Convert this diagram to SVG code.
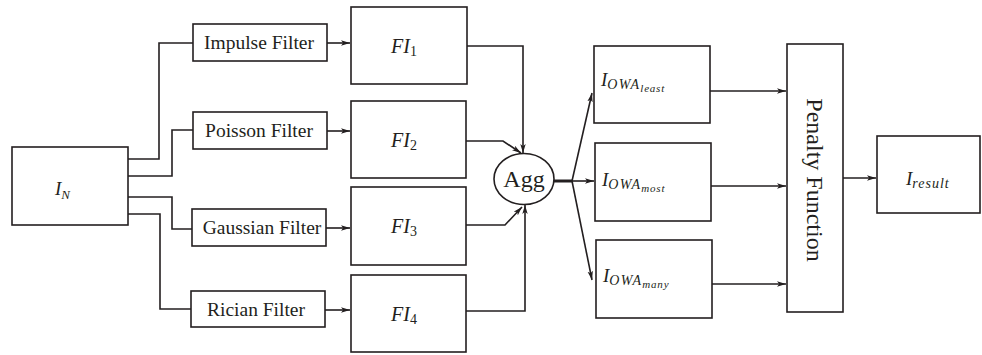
<svg xmlns="http://www.w3.org/2000/svg" width="982" height="355" viewBox="0 0 982 355">
<style>
.box{fill:#fff;stroke:#231f20;stroke-width:1.6}
.ln{fill:none;stroke:#231f20;stroke-width:1.6}
.lbl{font-family:"Liberation Serif","Times New Roman",serif;fill:#231f20;font-size:19.5px}
.big{font-size:24px}
.m{font-family:"Liberation Serif","Times New Roman",serif;font-style:italic;fill:#231f20;font-size:19px}
.fi{font-size:20px}
.sub{font-style:normal;font-size:14px}
.s1{font-size:14px;letter-spacing:1.2px}
.s2{font-size:11px;letter-spacing:0.8px}
</style>
<defs>
<marker id="ah" viewBox="0 0 9 6" refX="9" refY="3" markerWidth="9" markerHeight="6" markerUnits="userSpaceOnUse" orient="auto">
<path d="M0,0.3 L9,3 L0,5.7 L2.2,3 z" fill="#231f20"/>
</marker>
</defs>
<rect width="982" height="355" fill="#fff"/>
<g id="connectors">
<path class="ln" d="M128,159 H159 V43 H193"/>
<path class="ln" d="M128,176 H172 V130 H193"/>
<path class="ln" d="M128,197 H172 V229 H192"/>
<path class="ln" d="M128,214 H160 V309 H191"/>
<path class="ln" d="M327,43 H350" marker-end="url(#ah)"/>
<path class="ln" d="M327,131 H350" marker-end="url(#ah)"/>
<path class="ln" d="M326,228 H350" marker-end="url(#ah)"/>
<path class="ln" d="M325,310 H350" marker-end="url(#ah)"/>
<path class="ln" d="M467,46 H523 V153" marker-end="url(#ah)"/>
<path class="ln" d="M466,141 H503 L521,153" marker-end="url(#ah)"/>
<path class="ln" d="M466,225 H505 L522,207" marker-end="url(#ah)"/>
<path class="ln" d="M466,311 H525 V205" marker-end="url(#ah)"/>
<path fill="none" stroke="#231f20" stroke-width="3" d="M554,181 H572"/>
<path class="ln" d="M572,181 H594" marker-end="url(#ah)"/>
<path class="ln" d="M572,181 L592,93" marker-end="url(#ah)"/>
<path class="ln" d="M572,181 L592,280" marker-end="url(#ah)"/>
<path class="ln" d="M710,91 H786" marker-end="url(#ah)"/>
<path class="ln" d="M711,186 H786" marker-end="url(#ah)"/>
<path class="ln" d="M712,284 H786" marker-end="url(#ah)"/>
<path class="ln" d="M843,178 H876" marker-end="url(#ah)"/>
</g>
<g id="input">
<rect class="box" x="12" y="147" width="116" height="78"/>
<text class="m" x="55" y="195">I<tspan style="font-size:13px" dy="4">N</tspan></text>
</g>
<g id="impulse">
<rect class="box" x="193" y="24" width="134" height="37"/>
<text class="lbl" x="259" y="49" text-anchor="middle">Impulse Filter</text>
</g>
<g id="poisson">
<rect class="box" x="193" y="112" width="134" height="37"/>
<text class="lbl" x="259" y="137" text-anchor="middle">Poisson Filter</text>
</g>
<g id="gaussian">
<rect class="box" x="192" y="209" width="134" height="37"/>
<text class="lbl" x="262" y="234" text-anchor="middle">Gaussian Filter</text>
</g>
<g id="rician">
<rect class="box" x="191" y="291" width="134" height="36"/>
<text class="lbl" x="256" y="316" text-anchor="middle">Rician Filter</text>
</g>
<g id="fi1">
<rect class="box" x="351" y="7" width="116" height="77"/>
<text class="m fi" x="404" y="53" text-anchor="middle">FI<tspan class="sub" dy="3">1</tspan></text>
</g>
<g id="fi2">
<rect class="box" x="351" y="101" width="115" height="77"/>
<text class="m fi" x="404" y="147" text-anchor="middle">FI<tspan class="sub" dy="3">2</tspan></text>
</g>
<g id="fi3">
<rect class="box" x="351" y="187" width="115" height="78"/>
<text class="m fi" x="404" y="233" text-anchor="middle">FI<tspan class="sub" dy="3">3</tspan></text>
</g>
<g id="fi4">
<rect class="box" x="351" y="275" width="115" height="77"/>
<text class="m fi" x="404" y="321" text-anchor="middle">FI<tspan class="sub" dy="3">4</tspan></text>
</g>
<g id="agg">
<ellipse class="box" cx="524" cy="179" rx="30" ry="25.5"/>
<text class="lbl big" x="524" y="187" text-anchor="middle">Agg</text>
</g>
<g id="owa-least">
<rect class="box" x="594" y="46" width="116" height="77"/>
<text class="m" x="601" y="86">I<tspan class="s1" dy="3">OWA</tspan><tspan class="s2" dy="3">least</tspan></text>
</g>
<g id="owa-most">
<rect class="box" x="595" y="143" width="116" height="78"/>
<text class="m" x="602" y="186">I<tspan class="s1" dy="3">OWA</tspan><tspan class="s2" dy="3">most</tspan></text>
</g>
<g id="owa-many">
<rect class="box" x="596" y="240" width="116" height="78"/>
<text class="m" x="603" y="282">I<tspan class="s1" dy="3">OWA</tspan><tspan class="s2" dy="3">many</tspan></text>
</g>
<g id="penalty">
<rect class="box" x="787" y="44" width="56" height="268"/>
<text class="lbl big" text-anchor="middle" transform="translate(815,180) rotate(90)" y="8">Penalty Function</text>
</g>
<g id="result">
<rect class="box" x="877" y="136" width="103" height="77"/>
<text class="m" x="906" y="185">I<tspan style="font-size:14px;letter-spacing:1px" dy="3">result</tspan></text>
</g>
</svg>
